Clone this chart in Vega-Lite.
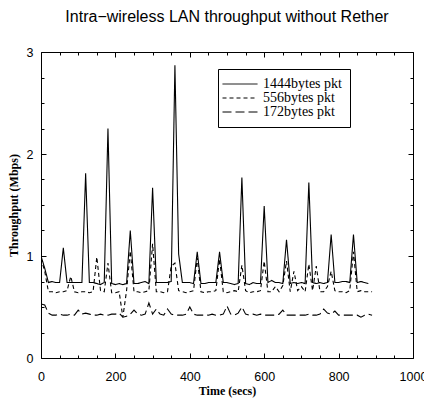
{
"$schema":"https://vega.github.io/schema/vega-lite/v6.json",
"width":372,"height":306,
"autosize":{"type":"none"},
"padding":{"left":41,"top":52,"right":11,"bottom":40},
"title":{"text":"Intra−wireless LAN throughput without Rether","font":"Liberation Sans","fontSize":16,"fontWeight":"normal","color":"black","anchor":"middle","offset":21},
"config":{"view":{"stroke":"black","strokeWidth":1},
"axis":{"domain":false,"grid":false,"tickColor":"black","tickWidth":1,"labelFont":"Liberation Sans","labelFontSize":12.5,"labelColor":"black","titleFont":"Liberation Serif","titleFontSize":12,"titleFontWeight":"bold","titleColor":"black"}},
"data":{"values":[
{"s":"1444bytes pkt","t":0,"v":1.00},{"s":"1444bytes pkt","t":10,"v":0.88},{"s":"1444bytes pkt","t":20,"v":0.74},{"s":"1444bytes pkt","t":30,"v":0.75},{"s":"1444bytes pkt","t":40,"v":0.74},{"s":"1444bytes pkt","t":50,"v":0.74},{"s":"1444bytes pkt","t":60,"v":1.08},{"s":"1444bytes pkt","t":70,"v":0.74},{"s":"1444bytes pkt","t":80,"v":0.74},{"s":"1444bytes pkt","t":90,"v":0.74},{"s":"1444bytes pkt","t":100,"v":0.74},{"s":"1444bytes pkt","t":110,"v":0.74},{"s":"1444bytes pkt","t":120,"v":1.81},{"s":"1444bytes pkt","t":130,"v":0.74},{"s":"1444bytes pkt","t":140,"v":0.74},{"s":"1444bytes pkt","t":150,"v":0.73},{"s":"1444bytes pkt","t":160,"v":0.72},{"s":"1444bytes pkt","t":170,"v":0.74},{"s":"1444bytes pkt","t":180,"v":2.25},{"s":"1444bytes pkt","t":190,"v":0.73},{"s":"1444bytes pkt","t":200,"v":0.72},{"s":"1444bytes pkt","t":210,"v":0.73},{"s":"1444bytes pkt","t":220,"v":0.72},{"s":"1444bytes pkt","t":230,"v":0.73},{"s":"1444bytes pkt","t":240,"v":1.25},{"s":"1444bytes pkt","t":250,"v":0.73},{"s":"1444bytes pkt","t":260,"v":0.73},{"s":"1444bytes pkt","t":270,"v":0.74},{"s":"1444bytes pkt","t":280,"v":0.75},{"s":"1444bytes pkt","t":290,"v":0.73},{"s":"1444bytes pkt","t":300,"v":1.67},{"s":"1444bytes pkt","t":310,"v":0.74},{"s":"1444bytes pkt","t":320,"v":0.74},{"s":"1444bytes pkt","t":330,"v":0.74},{"s":"1444bytes pkt","t":340,"v":0.74},{"s":"1444bytes pkt","t":350,"v":0.75},{"s":"1444bytes pkt","t":360,"v":2.87},{"s":"1444bytes pkt","t":370,"v":1.02},{"s":"1444bytes pkt","t":380,"v":0.74},{"s":"1444bytes pkt","t":390,"v":0.74},{"s":"1444bytes pkt","t":400,"v":0.74},{"s":"1444bytes pkt","t":410,"v":0.73},{"s":"1444bytes pkt","t":420,"v":1.04},{"s":"1444bytes pkt","t":430,"v":0.73},{"s":"1444bytes pkt","t":440,"v":0.73},{"s":"1444bytes pkt","t":450,"v":0.74},{"s":"1444bytes pkt","t":460,"v":0.74},{"s":"1444bytes pkt","t":470,"v":0.74},{"s":"1444bytes pkt","t":480,"v":1.04},{"s":"1444bytes pkt","t":490,"v":0.74},{"s":"1444bytes pkt","t":500,"v":0.74},{"s":"1444bytes pkt","t":510,"v":0.73},{"s":"1444bytes pkt","t":520,"v":0.72},{"s":"1444bytes pkt","t":530,"v":0.73},{"s":"1444bytes pkt","t":540,"v":1.77},{"s":"1444bytes pkt","t":550,"v":0.73},{"s":"1444bytes pkt","t":560,"v":0.72},{"s":"1444bytes pkt","t":570,"v":0.74},{"s":"1444bytes pkt","t":580,"v":0.73},{"s":"1444bytes pkt","t":590,"v":0.73},{"s":"1444bytes pkt","t":600,"v":1.49},{"s":"1444bytes pkt","t":610,"v":0.74},{"s":"1444bytes pkt","t":620,"v":0.76},{"s":"1444bytes pkt","t":630,"v":0.74},{"s":"1444bytes pkt","t":640,"v":0.74},{"s":"1444bytes pkt","t":650,"v":0.73},{"s":"1444bytes pkt","t":660,"v":1.16},{"s":"1444bytes pkt","t":670,"v":0.73},{"s":"1444bytes pkt","t":680,"v":0.74},{"s":"1444bytes pkt","t":690,"v":0.73},{"s":"1444bytes pkt","t":700,"v":0.74},{"s":"1444bytes pkt","t":710,"v":0.73},{"s":"1444bytes pkt","t":720,"v":1.72},{"s":"1444bytes pkt","t":730,"v":0.74},{"s":"1444bytes pkt","t":740,"v":0.73},{"s":"1444bytes pkt","t":750,"v":0.74},{"s":"1444bytes pkt","t":760,"v":0.73},{"s":"1444bytes pkt","t":770,"v":0.74},{"s":"1444bytes pkt","t":780,"v":1.21},{"s":"1444bytes pkt","t":790,"v":0.74},{"s":"1444bytes pkt","t":800,"v":0.74},{"s":"1444bytes pkt","t":810,"v":0.75},{"s":"1444bytes pkt","t":820,"v":0.75},{"s":"1444bytes pkt","t":830,"v":0.74},{"s":"1444bytes pkt","t":840,"v":1.21},{"s":"1444bytes pkt","t":850,"v":0.74},{"s":"1444bytes pkt","t":860,"v":0.75},{"s":"1444bytes pkt","t":870,"v":0.74},{"s":"1444bytes pkt","t":880,"v":0.73},
{"s":"556bytes pkt","t":0,"v":0.98},{"s":"556bytes pkt","t":10,"v":0.85},{"s":"556bytes pkt","t":20,"v":0.65},{"s":"556bytes pkt","t":30,"v":0.65},{"s":"556bytes pkt","t":40,"v":0.64},{"s":"556bytes pkt","t":50,"v":0.65},{"s":"556bytes pkt","t":60,"v":0.65},{"s":"556bytes pkt","t":70,"v":0.66},{"s":"556bytes pkt","t":80,"v":0.80},{"s":"556bytes pkt","t":90,"v":0.65},{"s":"556bytes pkt","t":100,"v":0.64},{"s":"556bytes pkt","t":110,"v":0.65},{"s":"556bytes pkt","t":120,"v":0.65},{"s":"556bytes pkt","t":130,"v":0.64},{"s":"556bytes pkt","t":140,"v":0.65},{"s":"556bytes pkt","t":150,"v":0.99},{"s":"556bytes pkt","t":160,"v":0.66},{"s":"556bytes pkt","t":170,"v":0.65},{"s":"556bytes pkt","t":180,"v":0.93},{"s":"556bytes pkt","t":190,"v":0.64},{"s":"556bytes pkt","t":200,"v":0.64},{"s":"556bytes pkt","t":210,"v":0.65},{"s":"556bytes pkt","t":220,"v":0.40},{"s":"556bytes pkt","t":230,"v":0.66},{"s":"556bytes pkt","t":240,"v":1.05},{"s":"556bytes pkt","t":250,"v":0.65},{"s":"556bytes pkt","t":260,"v":0.65},{"s":"556bytes pkt","t":270,"v":0.64},{"s":"556bytes pkt","t":280,"v":0.65},{"s":"556bytes pkt","t":290,"v":0.66},{"s":"556bytes pkt","t":300,"v":1.12},{"s":"556bytes pkt","t":310,"v":0.65},{"s":"556bytes pkt","t":320,"v":0.65},{"s":"556bytes pkt","t":330,"v":0.64},{"s":"556bytes pkt","t":340,"v":0.65},{"s":"556bytes pkt","t":350,"v":0.90},{"s":"556bytes pkt","t":360,"v":0.93},{"s":"556bytes pkt","t":370,"v":0.66},{"s":"556bytes pkt","t":380,"v":0.65},{"s":"556bytes pkt","t":390,"v":0.64},{"s":"556bytes pkt","t":400,"v":0.65},{"s":"556bytes pkt","t":410,"v":0.66},{"s":"556bytes pkt","t":420,"v":0.98},{"s":"556bytes pkt","t":430,"v":0.65},{"s":"556bytes pkt","t":440,"v":0.64},{"s":"556bytes pkt","t":450,"v":0.65},{"s":"556bytes pkt","t":460,"v":0.65},{"s":"556bytes pkt","t":470,"v":0.66},{"s":"556bytes pkt","t":480,"v":0.97},{"s":"556bytes pkt","t":490,"v":0.65},{"s":"556bytes pkt","t":500,"v":0.64},{"s":"556bytes pkt","t":510,"v":0.65},{"s":"556bytes pkt","t":520,"v":0.66},{"s":"556bytes pkt","t":530,"v":0.65},{"s":"556bytes pkt","t":540,"v":0.91},{"s":"556bytes pkt","t":550,"v":0.66},{"s":"556bytes pkt","t":560,"v":0.64},{"s":"556bytes pkt","t":570,"v":0.65},{"s":"556bytes pkt","t":580,"v":0.65},{"s":"556bytes pkt","t":590,"v":0.66},{"s":"556bytes pkt","t":600,"v":0.95},{"s":"556bytes pkt","t":610,"v":0.65},{"s":"556bytes pkt","t":620,"v":0.65},{"s":"556bytes pkt","t":630,"v":0.70},{"s":"556bytes pkt","t":640,"v":0.65},{"s":"556bytes pkt","t":650,"v":0.71},{"s":"556bytes pkt","t":660,"v":0.95},{"s":"556bytes pkt","t":670,"v":0.65},{"s":"556bytes pkt","t":680,"v":0.85},{"s":"556bytes pkt","t":690,"v":0.66},{"s":"556bytes pkt","t":700,"v":0.70},{"s":"556bytes pkt","t":710,"v":0.65},{"s":"556bytes pkt","t":720,"v":0.92},{"s":"556bytes pkt","t":730,"v":0.66},{"s":"556bytes pkt","t":740,"v":0.90},{"s":"556bytes pkt","t":750,"v":0.65},{"s":"556bytes pkt","t":760,"v":0.65},{"s":"556bytes pkt","t":770,"v":0.70},{"s":"556bytes pkt","t":780,"v":0.85},{"s":"556bytes pkt","t":790,"v":0.66},{"s":"556bytes pkt","t":800,"v":0.65},{"s":"556bytes pkt","t":810,"v":0.65},{"s":"556bytes pkt","t":820,"v":0.64},{"s":"556bytes pkt","t":830,"v":0.66},{"s":"556bytes pkt","t":840,"v":1.04},{"s":"556bytes pkt","t":850,"v":0.65},{"s":"556bytes pkt","t":860,"v":0.66},{"s":"556bytes pkt","t":870,"v":0.65},{"s":"556bytes pkt","t":880,"v":0.65},{"s":"556bytes pkt","t":890,"v":0.65},
{"s":"172bytes pkt","t":0,"v":0.53},{"s":"172bytes pkt","t":10,"v":0.52},{"s":"172bytes pkt","t":20,"v":0.44},{"s":"172bytes pkt","t":30,"v":0.42},{"s":"172bytes pkt","t":40,"v":0.42},{"s":"172bytes pkt","t":50,"v":0.43},{"s":"172bytes pkt","t":60,"v":0.42},{"s":"172bytes pkt","t":70,"v":0.42},{"s":"172bytes pkt","t":80,"v":0.43},{"s":"172bytes pkt","t":90,"v":0.42},{"s":"172bytes pkt","t":100,"v":0.47},{"s":"172bytes pkt","t":110,"v":0.43},{"s":"172bytes pkt","t":120,"v":0.44},{"s":"172bytes pkt","t":130,"v":0.43},{"s":"172bytes pkt","t":140,"v":0.42},{"s":"172bytes pkt","t":150,"v":0.42},{"s":"172bytes pkt","t":160,"v":0.43},{"s":"172bytes pkt","t":170,"v":0.42},{"s":"172bytes pkt","t":180,"v":0.42},{"s":"172bytes pkt","t":190,"v":0.43},{"s":"172bytes pkt","t":200,"v":0.43},{"s":"172bytes pkt","t":210,"v":0.44},{"s":"172bytes pkt","t":220,"v":0.40},{"s":"172bytes pkt","t":230,"v":0.41},{"s":"172bytes pkt","t":240,"v":0.43},{"s":"172bytes pkt","t":250,"v":0.47},{"s":"172bytes pkt","t":260,"v":0.43},{"s":"172bytes pkt","t":270,"v":0.42},{"s":"172bytes pkt","t":280,"v":0.43},{"s":"172bytes pkt","t":290,"v":0.54},{"s":"172bytes pkt","t":300,"v":0.43},{"s":"172bytes pkt","t":310,"v":0.48},{"s":"172bytes pkt","t":320,"v":0.43},{"s":"172bytes pkt","t":330,"v":0.42},{"s":"172bytes pkt","t":340,"v":0.48},{"s":"172bytes pkt","t":350,"v":0.43},{"s":"172bytes pkt","t":360,"v":0.42},{"s":"172bytes pkt","t":370,"v":0.42},{"s":"172bytes pkt","t":380,"v":0.42},{"s":"172bytes pkt","t":390,"v":0.43},{"s":"172bytes pkt","t":400,"v":0.50},{"s":"172bytes pkt","t":410,"v":0.43},{"s":"172bytes pkt","t":420,"v":0.42},{"s":"172bytes pkt","t":430,"v":0.42},{"s":"172bytes pkt","t":440,"v":0.42},{"s":"172bytes pkt","t":450,"v":0.42},{"s":"172bytes pkt","t":460,"v":0.43},{"s":"172bytes pkt","t":470,"v":0.42},{"s":"172bytes pkt","t":480,"v":0.42},{"s":"172bytes pkt","t":490,"v":0.43},{"s":"172bytes pkt","t":500,"v":0.51},{"s":"172bytes pkt","t":510,"v":0.43},{"s":"172bytes pkt","t":520,"v":0.42},{"s":"172bytes pkt","t":530,"v":0.44},{"s":"172bytes pkt","t":540,"v":0.50},{"s":"172bytes pkt","t":550,"v":0.43},{"s":"172bytes pkt","t":560,"v":0.42},{"s":"172bytes pkt","t":570,"v":0.43},{"s":"172bytes pkt","t":580,"v":0.42},{"s":"172bytes pkt","t":590,"v":0.43},{"s":"172bytes pkt","t":600,"v":0.42},{"s":"172bytes pkt","t":610,"v":0.42},{"s":"172bytes pkt","t":620,"v":0.42},{"s":"172bytes pkt","t":630,"v":0.42},{"s":"172bytes pkt","t":640,"v":0.43},{"s":"172bytes pkt","t":650,"v":0.47},{"s":"172bytes pkt","t":660,"v":0.42},{"s":"172bytes pkt","t":670,"v":0.42},{"s":"172bytes pkt","t":680,"v":0.42},{"s":"172bytes pkt","t":690,"v":0.42},{"s":"172bytes pkt","t":700,"v":0.42},{"s":"172bytes pkt","t":710,"v":0.42},{"s":"172bytes pkt","t":720,"v":0.43},{"s":"172bytes pkt","t":730,"v":0.42},{"s":"172bytes pkt","t":740,"v":0.42},{"s":"172bytes pkt","t":750,"v":0.43},{"s":"172bytes pkt","t":760,"v":0.48},{"s":"172bytes pkt","t":770,"v":0.44},{"s":"172bytes pkt","t":780,"v":0.43},{"s":"172bytes pkt","t":790,"v":0.46},{"s":"172bytes pkt","t":800,"v":0.42},{"s":"172bytes pkt","t":810,"v":0.42},{"s":"172bytes pkt","t":820,"v":0.42},{"s":"172bytes pkt","t":830,"v":0.42},{"s":"172bytes pkt","t":840,"v":0.42},{"s":"172bytes pkt","t":850,"v":0.42},{"s":"172bytes pkt","t":860,"v":0.40},{"s":"172bytes pkt","t":870,"v":0.42},{"s":"172bytes pkt","t":880,"v":0.43},{"s":"172bytes pkt","t":890,"v":0.42}
]},
"layer":[
{"mark":{"type":"line","color":"black","strokeWidth":1.1,"clip":true},
 "encoding":{
  "x":{"field":"t","type":"quantitative","scale":{"domain":[0,1000],"nice":false},
       "axis":{"orient":"bottom","title":"Time (secs)","values":[0,50,100,150,200,250,300,350,400,450,500,550,600,650,700,750,800,850,900,950,1000],
               "labelExpr":"datum.value % 200 === 0 ? format(datum.value,'d') : ''","tickSize":{"condition":{"test":"datum.value % 200 === 0","value":-5},"value":-3},"labelPadding":17,"titlePadding":1,"labelFlush":false,"labelOverlap":false}},
  "y":{"field":"v","type":"quantitative","scale":{"domain":[0,3],"nice":false,"zero":true},
       "axis":{"orient":"left","title":"Throughput (Mbps)","values":[0,0.25,0.5,0.75,1,1.25,1.5,1.75,2,2.25,2.5,2.75,3],
               "labelExpr":"datum.value % 1 === 0 ? format(datum.value,'d') : ''","tickSize":{"condition":{"test":"datum.value % 1 === 0","value":-5},"value":-3},"labelPadding":13,"titlePadding":6,"labelFlush":false,"labelOverlap":false}},
  "strokeDash":{"field":"s","type":"nominal","sort":["1444bytes pkt","556bytes pkt","172bytes pkt"],
       "scale":{"domain":["1444bytes pkt","556bytes pkt","172bytes pkt"],"range":[[1,0],[4,3],[9,4]]},
       "legend":{"orient":"none","legendX":177,"legendY":17,"title":null,"symbolType":"M-3,0H7","symbolSize":49,"symbolStrokeColor":"black","symbolStrokeWidth":1,"symbolFillColor":"transparent","strokeColor":"black","fillColor":"white","padding":8,"labelFont":"Liberation Serif","labelFontSize":14,"labelColor":"black","rowPadding":0,"labelOffset":23}}
 }},
{"mark":{"type":"line","opacity":0},
 "encoding":{
  "x":{"field":"t","type":"quantitative","scale":{"domain":[0,1000],"nice":false},
       "axis":{"orient":"top","title":null,"labels":false,"values":[0,50,100,150,200,250,300,350,400,450,500,550,600,650,700,750,800,850,900,950,1000],"tickSize":{"condition":{"test":"datum.value % 200 === 0","value":-5},"value":-3}}},
  "y":{"field":"v","type":"quantitative","scale":{"domain":[0,3],"nice":false},
       "axis":{"orient":"right","title":null,"labels":false,"values":[0,0.25,0.5,0.75,1,1.25,1.5,1.75,2,2.25,2.5,2.75,3],"tickSize":{"condition":{"test":"datum.value % 1 === 0","value":-5},"value":-3}}}
 }}
],
"resolve":{"axis":{"x":"independent","y":"independent"}}
}
